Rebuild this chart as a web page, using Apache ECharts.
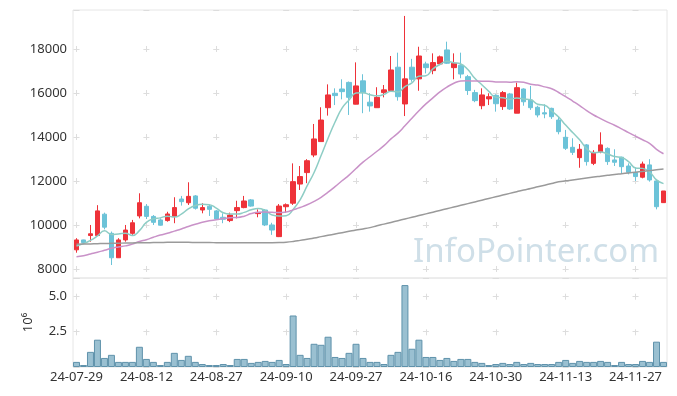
<!DOCTYPE html>
<html><head><meta charset="utf-8">
<script src="https://cdn.jsdelivr.net/npm/echarts@6/dist/echarts.min.js"></script>
<style>html,body{margin:0;padding:0;background:#fff}#c{width:677px;height:396px}</style>
</head><body><div id="c"></div>
<script>
const dates = [
'24-07-29','24-07-30','24-07-31','24-08-01','24-08-02','24-08-05','24-08-06','24-08-07','24-08-08','24-08-09',
'24-08-12','24-08-13','24-08-14','24-08-16','24-08-19','24-08-20','24-08-21','24-08-22','24-08-23','24-08-26',
'24-08-27','24-08-28','24-08-29','24-08-30','24-09-02','24-09-03','24-09-04','24-09-05','24-09-06','24-09-09',
'24-09-10','24-09-11','24-09-12','24-09-13','24-09-19','24-09-20','24-09-23','24-09-24','24-09-25','24-09-26',
'24-09-27','24-09-30','24-10-02','24-10-04','24-10-07','24-10-08','24-10-10','24-10-11','24-10-14','24-10-15',
'24-10-16','24-10-17','24-10-18','24-10-21','24-10-22','24-10-23','24-10-24','24-10-25','24-10-28','24-10-29',
'24-10-30','24-10-31','24-11-01','24-11-04','24-11-05','24-11-06','24-11-07','24-11-08','24-11-11','24-11-12',
'24-11-13','24-11-14','24-11-15','24-11-18','24-11-19','24-11-20','24-11-21','24-11-22','24-11-25','24-11-26',
'24-11-27','24-11-28','24-11-29','24-12-02','24-12-03'];

const opens = [8870,9320,9520,9520,10490,9620,8510,9320,9620,10410,
10850,10390,10230,10200,10390,11180,11010,11320,10680,10850,
10640,10350,10200,10650,10790,11140,10515,10680,10000,9470,
10830,10990,11860,12380,13180,13790,15330,15985,16180,16480,
15490,16550,15580,15330,16015,16110,17170,15500,17170,16640,
17320,17015,17320,17955,17150,17260,16740,16015,15420,15730,
15890,15380,15955,15080,16180,15680,15350,15100,15300,14770,
13985,13530,13060,13640,12800,13330,13480,12955,13080,12680,
12390,12170,12730,12000,11015];
const closes = [9320,9200,9600,10640,9900,8510,9320,9770,10100,11010,
10390,10120,9990,10500,10790,11060,11300,10760,10790,10710,
10270,10260,10450,10790,11090,10860,10560,10000,9770,10860,
10920,11970,12200,12920,13910,14770,15910,15880,16060,15800,
16320,16010,15410,15800,16140,17045,15830,16640,16620,17680,
17150,17380,17640,17350,17350,16860,16110,15650,15910,15830,
15510,16015,15270,16240,15600,15330,15000,15045,14920,14240,
13485,13300,13440,12880,13300,13640,12880,12850,12650,12390,
12200,12770,12045,10830,11545];
const lows = [8740,9180,9240,9500,9800,8180,8500,9240,9550,10300,
10270,10000,9970,10150,10080,10880,10910,10700,10530,10410,
10230,10080,10130,10300,10760,10830,10350,9950,9550,9450,
10560,10910,11590,11900,13080,13790,14970,15450,15710,15000,
15480,15080,15150,15330,15800,16060,15650,14950,16510,16100,
16890,16850,17280,17320,16620,16670,15910,15580,15260,15450,
15150,15230,15230,15080,15420,15230,14890,14850,14820,14120,
13410,13180,12600,12700,12720,13260,12730,12680,12320,12300,
12000,12120,11970,10710,11000];
const highs = [9400,9330,10000,10900,10560,9700,9400,10000,10230,11440,
10950,10450,10300,10600,11260,11320,11940,11360,10990,10910,
10680,10530,10560,11100,11320,11180,10710,10720,10100,10950,
10980,12800,12680,12990,14590,15350,16390,16210,16620,16520,
17390,16850,15990,16260,16360,17680,17830,19500,17550,18100,
17420,17800,17700,18330,17800,17830,16820,16140,16210,15985,
15940,16090,16000,16470,16210,16320,15420,15485,15330,14920,
14320,13940,13680,13680,13400,14210,13530,13440,13100,12800,
12620,12880,12990,12050,11545];
const volumes = [0.36,0.14,1.07,1.93,0.64,0.86,0.36,0.36,0.36,1.43,
0.57,0.36,0.14,0.36,1.00,0.50,0.79,0.36,0.21,0.14,
0.14,0.21,0.14,0.57,0.57,0.29,0.36,0.43,0.36,0.50,
0.21,3.64,0.86,0.64,1.64,1.57,2.14,0.71,0.64,1.00,
1.64,0.64,0.36,0.36,0.21,0.86,1.07,5.79,1.29,1.93,
0.71,0.71,0.50,0.64,0.43,0.57,0.57,0.36,0.29,0.14,
0.21,0.29,0.21,0.36,0.21,0.29,0.21,0.21,0.21,0.36,
0.50,0.29,0.43,0.36,0.36,0.43,0.36,0.14,0.36,0.21,
0.21,0.43,0.36,1.79,0.36];
const ma5 = [9040,9150,9300,9500,9732,9570,9594,9628,9520,9742,
10118,10278,10322,10402,10358,10492,10728,10882,10940,10924,
10766,10558,10496,10496,10572,10690,10750,10660,10456,10410,
10422,10704,11144,11774,12384,13154,13942,14678,15306,15684,
15994,16014,15920,15868,15936,16081,16045,16291,16455,16763,
16784,17094,17294,17440,17374,17316,17062,16664,16376,16072,
15802,15783,15707,15773,15727,15691,15488,15443,15179,14907,
14538,14198,13877,13469,13281,13312,13228,13110,13064,12882,
12594,12572,12411,12047,11878];
const ma20 = [8560,8600,8680,8760,8850,8940,9000,9050,9130,9250,
9330,9440,9540,9620,9720,9820,9930,10030,10120,10189,
10237,10290,10332,10340,10399,10517,10579,10590,10574,10566,
10593,10685,10796,10917,11073,11258,11489,11745,12008,12263,
12565,12853,13101,13351,13604,13913,14176,14508,14851,15192,
15503,15774,16046,16267,16439,16544,16554,16542,16535,16536,
16496,16496,16489,16511,16484,16398,16357,16277,16192,16020,
15837,15633,15423,15199,14997,14836,14674,14534,14371,14199,
14034,13872,13710,13440,13237];
const ma120 = [9120,9130,9140,9150,9160,9165,9170,9180,9185,9190,
9195,9200,9205,9210,9210,9210,9210,9205,9200,9200,
9195,9190,9190,9190,9190,9190,9195,9195,9195,9200,
9215,9250,9300,9355,9410,9470,9530,9590,9650,9710,
9770,9820,9880,9962,10039,10117,10194,10272,10350,10427,
10505,10582,10660,10738,10815,10893,10970,11048,11126,11203,
11281,11358,11436,11514,11591,11660,11735,11810,11885,11960,
12005,12045,12090,12130,12175,12215,12255,12295,12330,12365,
12400,12435,12470,12505,12540];

const kData = opens.map((o, i) => [o, closes[i], lows[i], highs[i]]);
const volData = volumes.map(v => v * 1e6);

const FONT = 'Noto Sans';
const chart = echarts.init(document.getElementById('c'), null, {renderer: 'canvas'});
chart.setOption({
  animation: false,
  backgroundColor: '#fff',
  textStyle: {fontFamily: FONT},
  grid: [
    {left: 73, top: 10, width: 594, height: 268, show: true, borderColor: '#e6e6e6', borderWidth: 1},
    {left: 73, top: 278, width: 594, height: 89, show: true, borderColor: '#e6e6e6', borderWidth: 1}
  ],
  graphic: [{
    type: 'text', left: 413, top: 236, silent: true, z: 0,
    style: {text: 'InfoPointer.com', fontFamily: FONT, fontSize: 33, fill: 'rgba(160,192,210,0.5)'}
  }],
  xAxis: [
    {type: 'category', gridIndex: 0, data: dates, boundaryGap: true,
     axisLine: {show: false}, axisTick: {show: false}, axisLabel: {show: false},
     splitLine: {show: true, interval: 9, alignWithLabel: true,
       lineStyle: {color: '#dddddd', width: 1, type: [6, 38], dashOffset: 8}}},
    {type: 'category', gridIndex: 1, data: dates, boundaryGap: true,
     axisLine: {show: false}, axisTick: {show: false},
     axisLabel: {interval: 9, fontSize: 13, color: '#333', margin: 4, fontFamily: FONT},
     splitLine: {show: true, interval: 9, alignWithLabel: true,
       lineStyle: {color: '#dddddd', width: 1, type: [6, 29.6], dashOffset: 19.9}}}
  ],
  yAxis: [
    {type: 'value', gridIndex: 0, min: 7590, max: 19770, splitNumber: 6,
     axisLine: {show: false}, axisTick: {show: false},
     axisLabel: {fontSize: 13, color: '#333', margin: 6, showMinLabel: false, showMaxLabel: false, fontFamily: FONT,
       formatter: v => String(Math.round(v))},
     splitLine: {show: true, lineStyle: {color: '#dddddd', width: 1, type: [6, 63.88], dashOffset: -0.5}}},
    {type: 'value', gridIndex: 1, min: 0, max: 6290000, interval: 2500000,
     name: '10\u2076', nameLocation: 'middle', nameRotate: 90, nameGap: 38,
     nameTextStyle: {fontSize: 13, color: '#333', fontFamily: FONT},
     axisLine: {show: false}, axisTick: {show: false},
     axisLabel: {fontSize: 13, color: '#333', margin: 6, showMinLabel: false, showMaxLabel: false, fontFamily: FONT,
       formatter: v => (v / 1e6).toFixed(1)},
     splitLine: {show: true, lineStyle: {color: '#dddddd', width: 1, type: [6, 63.88], dashOffset: -0.5}}}
  ],
  series: [
    {type: 'candlestick', name: 'price', xAxisIndex: 0, yAxisIndex: 0, data: kData, barWidth: 5,
     itemStyle: {color: '#ee3239', color0: '#6cc3d8', borderColor: '#ee3239', borderColor0: '#6cc3d8', borderWidth: 1}, z: 3},
    {type: 'line', name: 'MA5', xAxisIndex: 0, yAxisIndex: 0, data: ma5, smooth: true, showSymbol: false, symbol: 'none',
     lineStyle: {color: '#8ecdc5', width: 1.5}, z: 4},
    {type: 'line', name: 'MA20', xAxisIndex: 0, yAxisIndex: 0, data: ma20, smooth: true, showSymbol: false, symbol: 'none',
     lineStyle: {color: '#c992c8', width: 1.5}, z: 4},
    {type: 'line', name: 'MA120', xAxisIndex: 0, yAxisIndex: 0, data: ma120, smooth: true, showSymbol: false, symbol: 'none',
     lineStyle: {color: '#9a9a9a', width: 1.5}, z: 4},
    {type: 'bar', name: 'volume', xAxisIndex: 1, yAxisIndex: 1, data: volData, barCategoryGap: '0%',
     itemStyle: {color: '#9ac0d1', borderColor: '#5f92ab', borderWidth: 1}}
  ]
});
</script></body></html>
